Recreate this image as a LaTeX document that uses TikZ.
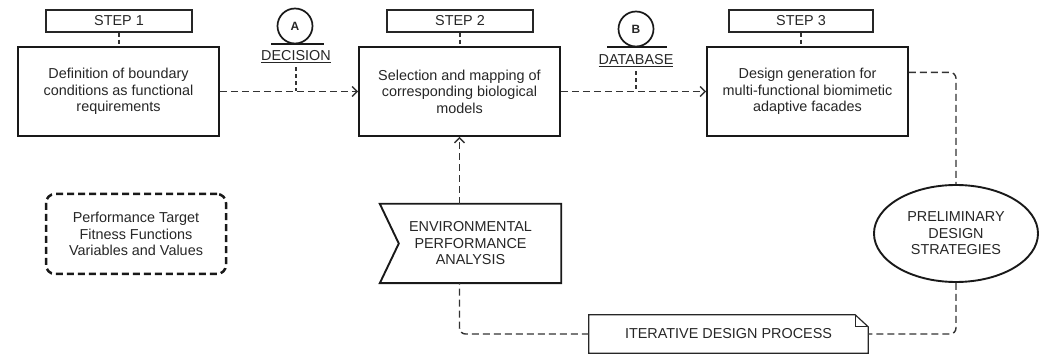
\documentclass[tikz,border=0pt]{standalone}
\usepackage{fontspec}
\setmainfont{Liberation Sans}
\usetikzlibrary{arrows.meta,calc,shapes.geometric}
\begin{document}
\begin{tikzpicture}[x=1pt,y=-1pt,
  every node/.style={font=\fontsize{14.4}{16.5}\selectfont, text=black!85, inner sep=0pt},
  mainbox/.style={draw=black!90, line width=1.9pt, minimum width=201pt, minimum height=89pt, align=center},
  labelbox/.style={draw=black!85, line width=1.2pt, minimum width=146pt, minimum height=22pt},
  conn/.style={draw=black!80, line width=1.4pt, dash pattern=on 7pt off 4pt},
  arr/.style={conn, -{Straight Barb[length=5pt,width=10pt]}},
  tick/.style={draw=black!80, line width=1.3pt, dash pattern=on 4pt off 3pt},
  letter/.style={draw=black!90, line width=1.7pt, circle, minimum size=35pt, font=\fontsize{12}{13}\selectfont\bfseries},
  bar/.style={draw=black!90, line width=1.6pt},
  rc/.style={rounded corners=6pt}
]
\useasboundingbox (0,0) rectangle (1039,355);

% step labels and main boxes
\node[labelbox] (s1) at (119,21) {STEP 1};
\node[labelbox] (s2) at (460,21) {STEP 2};
\node[labelbox, minimum width=144pt] (s3) at (801,21) {STEP 3};

\node[mainbox] (b1) at (118.5,91.5) {Definition of boundary\\conditions as functional\\requirements};
\node[mainbox] (b2) at (459.5,91.5) {Selection and mapping of\\corresponding biological\\models};
\node[mainbox] (b3) at (807.5,91.5) {Design generation for\\multi-functional biomimetic\\adaptive facades};

\draw[tick] (s1.south) -- (s1.south |- b1.north);
\draw[tick] (s2.south) -- (s2.south |- b2.north);
\draw[tick] (s3.south) -- (s3.south |- b3.north);

% decision A
\node[letter] (ca) at (295,26) {A};
\coordinate (ba1) at (271,44);
\coordinate (ba2) at (324,44);
\draw[bar] (ba1) -- (ba2);
\node (dec) at (296,57) {\underline{DECISION}};

% database B
\node[letter] (cb) at (636,29) {B};
\coordinate (bb1) at (607,47);
\coordinate (bb2) at (667,47);
\draw[bar] (bb1) -- (bb2);
\node (db) at (636,61) {\underline{DATABASE}};

% main flow
\draw[arr] (b1) -- (b2);
\draw[arr] (b2) -- (b3);
\draw[tick] ($(dec.south)+(0,4)$) -- (dec.south |- b1.east);
\draw[tick] ($(db.south)+(0,4)$) -- (db.south |- b2.east);

% dashed rounded box
\node[draw=black!90, line width=2.5pt, dash pattern=on 7pt off 4pt, rounded corners=9pt,
      minimum width=180pt, minimum height=80pt, align=center] (perf) at (136,234)
  {Performance Target\\Fitness Functions\\Variables and Values};

% environmental analysis
\node[minimum width=181pt, minimum height=79pt, align=center] (env) at (470.5,243.5)
  {ENVIRONMENTAL\\PERFORMANCE\\ANALYSIS};
\draw[draw=black!90, line width=1.9pt, line join=miter]
  (env.north west) -- (env.north east) -- (env.south east) -- (env.south west)
  -- ($(env.west)+(19,0)$) -- cycle;

% preliminary design strategies
\node[ellipse, draw=black!90, line width=1.9pt, minimum width=164pt, minimum height=97pt, align=center]
  (ps) at (956,233.5) {PRELIMINARY\\DESIGN\\STRATEGIES};

% iterative design process (note)
\node[minimum width=279pt, minimum height=38pt] (it) at (728.5,334) {ITERATIVE DESIGN PROCESS};
\draw[draw=black!85, line width=1.2pt]
  (it.south west) -- (it.north west) -- ($(it.north east)+(-13,0)$) -- ($(it.north east)+(0,12)$)
  -- (it.south east) -- cycle;
\draw[draw=black!85, line width=1.2pt]
  ($(it.north east)+(-13,0)$) -- ($(it.north east)+(-13,12)$) -- ($(it.north east)+(0,12)$);

% feedback loop
\coordinate (b3out) at ($(b3.north east)!0.29!(b3.south east)$);
\draw[conn, rc] (b3out) -| (ps.north);
\draw[conn, rc] (ps.south) |- (it.east);
\draw[conn, rc] (it.west) -| (b2.south |- env.south);
\draw[arr] (b2.south |- env.north) -- (b2.south);
\end{tikzpicture}
\end{document}
